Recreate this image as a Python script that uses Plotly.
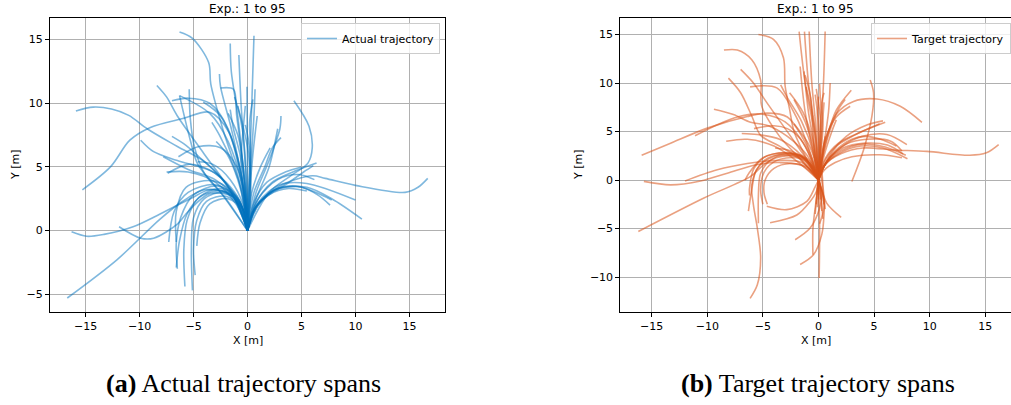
import plotly.graph_objects as go

# Actual (driven) trajectories, metres, each starting at the robot origin
ACTUAL_TRAJ = [
    [(0, 0), (0.2, 5), (0.4, 10), (0.6, 15.3)],
    [(0, 0), (-0.3, 4), (-0.9, 9), (-1.5, 12.5), (-1.6, 14.7)],
    [(0, 0), (-0.2, 5), (-0.6, 10), (-0.8, 13.8)],
    [(0, 0), (-0.8, 4), (-2.3, 8), (-3.4, 11.5), (-3.6, 13.2), (-5.1, 15.1), (-6.3, 15.6)],
    [(0, 0), (0.3, 5), (0.6, 9), (0.7, 11.1)],
    [(0, 0), (0.0, 5), (-0.05, 11.3)],
    [(0, 0), (-0.4, 5), (-1.0, 9), (-1.3, 11.1), (-2.5, 11.2)],
    [(0, 0), (0.8, 3), (2.0, 5.5), (3.0, 8.0), (3.1, 9.0)],
    [(0, 0), (0.6, 3), (1.6, 5), (2.3, 6.5), (3.1, 7.3)],
    [(0, 0), (0.8, 2.5), (2.0, 5), (2.8, 8.0)],
    [(0, 0), (2.0, 3.0), (4.0, 4.3), (5.6, 5.3), (6.0, 6.5), (5.7, 8.2), (4.3, 10.2)],
    [(0, 0), (-0.5, 4), (-1.5, 8), (-2.5, 11.3), (-2.6, 12.3)],
    [(0, 0), (-2.0, 2.5), (-4.0, 4.5), (-4.9, 6.5), (-5.3, 8.8), (-5.4, 11.1)],
    [(0, 0), (-1.5, 3), (-4.0, 6), (-6.5, 9), (-7.5, 10.5), (-8.4, 11.4)],
    [(0, 0), (-0.6, 4), (-1.8, 8), (-3.5, 10), (-5.5, 10.4), (-7.0, 10.2)],
    [(0, 0), (-0.5, 4), (-1.7, 7.7), (-3.5, 9.3), (-6.0, 8.8), (-9.0, 8.1), (-10.9, 7.1), (-12.7, 5.0), (-15.3, 3.2)],
    [(0, 0), (-1.5, 3), (-3.8, 5.3), (-6.5, 6.6), (-9.3, 8.0), (-11.0, 9.05), (-12.6, 9.55), (-14.3, 9.7), (-15.9, 9.4)],
    [(0, 0), (-1.0, 2.5), (-3.0, 4.5), (-6.5, 5.5), (-8.7, 6.2), (-9.9, 7.1)],
    [(0, 0), (-1.0, 2.0), (-3.0, 3.8), (-5.5, 4.6), (-7.5, 4.6)],
    [(0, 0), (-1.2, 2.6), (-3.0, 4.0), (-5.5, 4.8), (-7.8, 5.8)],
    [(0, 0), (-0.7, 2.2), (-2.5, 3.3), (-4.5, 2.6), (-5.6, 0.8), (-5.9, -1.5), (-5.8, -4.4)],
    [(0, 0), (-0.6, 2.0), (-2.2, 3.0), (-4.0, 2.5), (-5.0, 1.0), (-5.2, -1.5), (-5.1, -4.7)],
    [(0, 0), (-0.8, 2.4), (-2.8, 3.5), (-5.0, 2.8), (-6.2, 1.0), (-6.6, -1.0), (-6.5, -3.0)],
    [(0, 0), (-0.9, 2.5), (-3.0, 3.6), (-5.5, 3.0), (-6.8, 1.5), (-7.3, -0.9)],
    [(0, 0), (-0.5, 1.8), (-2.0, 2.7), (-3.8, 2.3), (-4.7, 0.8), (-5.0, -1.5), (-4.85, -3.5)],
    [(0, 0), (-0.7, 2.1), (-2.4, 3.1), (-4.3, 2.7), (-5.6, 1.3), (-6.3, -0.8), (-6.6, -2.9)],
    [(0, 0), (-1.0, 2.7), (-3.2, 3.9), (-5.7, 3.4), (-6.6, 1.5), (-6.6, -0.9)],
    [(0, 0), (-0.4, 1.6), (-1.8, 2.5), (-3.5, 2.1), (-4.4, 0.6), (-4.7, -1.2)],
    [(0, 0), (-1.5, 2.8), (-4.0, 3.2), (-6.0, 2.3), (-8.1, 0.9), (-12.1, -2.3), (-16.7, -5.3)],
    [(0, 0), (-1.5, 2.8), (-3.5, 3.2), (-5.3, 2.5), (-8.1, 1.3), (-10.6, 0.3), (-13.3, -0.3), (-14.9, -0.45), (-16.3, -0.1)],
    [(0, 0), (-1.3, 2.6), (-3.5, 2.9), (-5.5, 1.5), (-6.5, 0.5), (-8.7, -0.6), (-9.9, -0.6), (-11.9, 0.3)],
    [(0, 0), (1.0, 2.0), (3.0, 3.5), (6.0, 4.3), (7.2, 4.1), (10.0, 3.55), (14.6, 3.0), (15.8, 3.4), (16.7, 4.1)],
    [(0, 0), (1.0, 2.0), (3.0, 3.3), (5.5, 3.4), (7.8, 2.5), (10.6, 0.9)],
    [(0, 0), (1.0, 2.2), (3.0, 3.6), (5.5, 3.7), (10.0, 2.4)],
    [(0, 0), (0.9, 2.0), (2.8, 3.3), (5.0, 3.4), (6.5, 2.8), (7.65, 2.0)],
    [(0, 0), (0.8, 1.9), (2.5, 3.2), (4.5, 3.5), (6.3, 3.0), (7.8, 2.4)],
    [(0, 0), (0.8, 2.2), (2.3, 3.8), (4.2, 4.6), (6.4, 5.3)],
    [(0, 0), (0.6, 1.6), (2.0, 2.8), (3.8, 3.3), (5.5, 3.1)],
    [(0, 0), (1.0, 2.5), (2.8, 4.0), (4.7, 4.4), (6.2, 4.0)],
    [(0, 0), (0.5, 1.5), (1.8, 2.8), (3.5, 3.6), (5.2, 4.6), (6.1, 5.1)],
    [(0, 0), (-0.2, 3), (-0.7, 6), (-1.3, 8), (-1.6, 9.5)],
    [(0, 0), (0.2, 3), (0.5, 6), (0.9, 9)],
    [(0, 0), (-0.5, 3), (-1.5, 5.5), (-2.6, 7.5), (-3.3, 8.5)],
    [(0, 0), (0.4, 3), (1.2, 5), (2.1, 6.5)],
    [(0, 0), (-0.3, 3), (-1.2, 6.5), (-2.5, 9), (-4.1, 10.1)],
    [(0, 0), (-1.0, 2.5), (-2.5, 4.2), (-4.5, 5.8), (-5.7, 6.7), (-7.0, 7.4)],
    [(0, 0), (-0.7, 2.3), (-2.0, 3.8), (-3.6, 4.8), (-5.5, 5.2), (-7.4, 4.5)],
    [(0, 0), (0.3, 3), (0.1, 6), (-0.5, 8.5), (-1.2, 10.5)],
    [(0, 0), (-0.1, 4), (-0.4, 7.5), (-0.9, 9.8)],
    [(0, 0), (-0.5, 3.5), (-1.8, 7), (-3.5, 9.2), (-6.3, 10.6)],
    [(0, 0), (-0.2, 2.5), (-1.0, 5), (-2.5, 6.5), (-4.5, 6.6), (-6.4, 5.8)],
    [(0, 0), (0.6, 2.2), (1.8, 3.8), (3.5, 4.6), (5.0, 5.0)],
    [(0, 0), (-0.4, 2), (-1.6, 4), (-3.2, 5.2), (-4.6, 5.4)],
    [(0, 0), (-2.5, 3), (-4.6, 5.2), (-5.3, 7.1), (-6.3, 10.6)],
    [(0, 0), (0.1, 3), (0.3, 6), (0.2, 8.5), (0.5, 10.3)],
    [(0, 0), (-0.3, 2.5), (-0.6, 5.5), (-0.4, 8), (-0.2, 9.8)],
    [(0, 0), (-0.1, 2.5), (-0.4, 5.0), (-0.9, 7.5), (-1.8, 9.2)],
    [(0, 0), (0.2, 2.0), (0.3, 4.5), (0.1, 7.0), (-0.2, 8.3)],
    [(0, 0), (-0.3, 2.0), (-0.9, 4.0), (-1.9, 6.0), (-2.9, 7.0)],
]

# Target (commanded) trajectories, metres
TARGET_TRAJ = [
    [(0, 0), (-0.4, 5), (-1.2, 10), (-1.74, 15.3)],
    [(0, 0), (-0.3, 5), (-0.9, 10), (-1.26, 15.3)],
    [(0, 0), (-0.2, 5), (-0.6, 10), (-0.84, 15.3)],
    [(0, 0), (0.2, 5), (0.45, 10), (0.6, 15.3)],
    [(0, 0), (-1.2, 2.5), (-2.2, 5), (-2.6, 7.3), (-3.0, 9.7), (-3.15, 12.6), (-4.05, 14.5), (-5.4, 15.0)],
    [(0, 0), (-1.5, 2), (-3.5, 4.5), (-5.1, 7.6), (-5.2, 10.3), (-6.0, 12.4), (-7.3, 13.4), (-8.5, 13.4)],
    [(0, 0), (-1.0, 2), (-2.5, 4.5), (-4.6, 7.9), (-5.85, 10.0), (-7.0, 11.4)],
    [(0, 0), (-1.5, 2), (-3.5, 3.5), (-5.2, 4.6), (-6.0, 6.6), (-7.0, 9.0), (-8.1, 10.5)],
    [(0, 0), (-0.5, 2), (-1.5, 4.5), (-2.8, 6.5), (-4.6, 6.9), (-6.4, 6.55), (-10.0, 5.35), (-13.3, 3.8), (-15.9, 2.55)],
    [(0, 0), (-1.5, 1.5), (-3.5, 1.8), (-5.5, 1.6), (-8.2, 0.7), (-10.6, -0.1), (-13.3, -0.5), (-15.7, -0.14)],
    [(0, 0), (-1.5, 1.8), (-4.0, 2.0), (-6.4, 1.7), (-9.1, 1.05), (-12.0, -0.1)],
    [(0, 0), (-1.5, 2.2), (-3.5, 2.5), (-5.0, 1.5), (-6.1, 0.37), (-10.3, -1.85), (-16.2, -5.3)],
    [(0, 0), (-1.5, 2.4), (-3.5, 2.6), (-5.3, 1.5), (-6.0, -0.5), (-5.85, -2.55), (-5.5, -4.95), (-5.2, -8.0), (-5.5, -10.8), (-6.15, -12.2)],
    [(0, 0), (0.1, -5), (0.06, -10.1)],
    [(0, 0), (0.5, -2), (0.5, -3.5), (0.3, -5.6), (-0.45, -7.7), (-1.65, -8.7)],
    [(0, 0), (0.3, -1.5), (0.1, -2.9), (-0.75, -4.95), (-2.1, -6.15)],
    [(0, 0), (-0.2, -2), (-0.5, -5), (-0.5, -7.7)],
    [(0, 0), (0.3, -1), (0.75, -2.4), (2.04, -3.85)],
    [(0, 0), (-0.3, -0.7), (-1.05, -2.2), (-2.85, -3.05), (-4.65, -2.7)],
    [(0, 0), (-0.2, -1.2), (-0.75, -2.2), (-1.95, -3.6), (-4.35, -4.4)],
    [(0, 0), (-1.0, 2.0), (-2.5, 2.7), (-4.5, 2.3), (-5.6, 1.0), (-6.0, -1.0), (-6.3, -3.2)],
    [(0, 0), (-0.8, 1.8), (-2.3, 2.5), (-4.2, 2.1), (-5.2, 0.7), (-5.4, -1.5), (-5.4, -4.45)],
    [(0, 0), (-1.2, 2.2), (-3.0, 2.8), (-5.0, 2.3), (-6.2, 0.8), (-6.6, 0.0)],
    [(0, 0), (-0.8, 2.0), (-2.5, 2.8), (-4.6, 2.5), (-5.8, 1.2), (-6.2, -0.8), (-6.2, -1.6)],
    [(0, 0), (-0.7, 1.6), (-2.0, 2.3), (-3.8, 2.0), (-4.9, 0.8), (-5.2, -1.0), (-5.0, -2.5)],
    [(0, 0), (-1.0, 1.3), (-2.5, 1.7), (-4.0, 1.2), (-4.8, 0.0), (-4.9, -1.3), (-4.6, -2.5)],
    [(0, 0), (0.5, 1.5), (2.0, 2.7), (4.0, 3.3), (6.75, 3.1), (9.75, 2.95), (13.6, 2.55), (15.1, 2.8), (16.2, 3.65)],
    [(0, 0), (0.3, 2), (0.6, 4), (1.6, 6.8), (3.15, 8.1), (5.25, 8.35), (7.35, 7.6), (9.3, 5.95)],
    [(3.0, -0.15), (4.05, 3.1), (4.8, 6.55), (4.95, 9.0), (4.65, 10.3)],
    [(0, 0), (0.8, 2.0), (2.3, 3.6), (3.9, 4.5), (6.15, 4.7), (7.95, 3.65)],
    [(0, 0), (0.6, 1.6), (2.0, 3.0), (4.0, 3.7), (6.0, 3.4), (7.85, 2.55)],
    [(0, 0), (0.5, 1.4), (1.8, 2.7), (3.8, 3.5), (5.8, 3.3), (8.0, 2.2)],
    [(0, 0), (0.7, 1.8), (2.2, 3.3), (4.2, 3.8), (6.2, 3.6), (7.6, 2.7)],
    [(0, 0), (0.8, 2.0), (2.5, 3.7), (4.3, 4.2), (6.5, 4.0), (7.5, 3.0)],
    [(0, 0), (0.6, 2.2), (1.8, 3.8), (3.5, 4.8), (6.0, 5.95)],
    [(0, 0), (0.5, 1.8), (1.5, 3.4), (3.2, 4.6), (5.5, 5.8)],
    [(0, 0), (0.3, 2), (0.8, 4.5), (1.6, 7.2), (2.95, 9.25)],
    [(0, 0), (0.2, 2), (0.7, 4.5), (1.6, 6.5), (2.85, 7.6)],
    [(0, 0), (0.5, 1.5), (1.5, 3.0), (3.0, 4.2), (4.2, 4.5), (5.6, 4.2), (7.0, 3.5)],
    [(0, 0), (0.5, 1.0), (1.5, 1.8), (3.0, 2.4), (5.5, 2.6), (7.5, 2.3)],
    [(0, 0), (-0.3, 3), (-0.9, 7), (-1.3, 11.2)],
    [(0, 0), (-0.5, 3), (-1.2, 7), (-1.65, 11.7)],
    [(0, 0), (0.4, 3), (0.9, 7), (1.05, 10.0)],
    [(0, 0), (-0.8, 3), (-2.0, 6.5), (-3.75, 9.5), (-6.15, 9.6)],
    [(0, 0), (-1.0, 2.5), (-2.8, 4.5), (-4.5, 5.6), (-6.1, 5.95), (-7.65, 6.75), (-9.4, 7.3)],
    [(0, 0), (-1.2, 3.5), (-3.0, 6.0), (-5.2, 6.8), (-7.3, 6.5), (-9.1, 5.7), (-11.1, 4.57)],
    [(0, 0), (-1.5, 2.5), (-3.5, 4.2), (-5.5, 4.7), (-6.9, 4.8)],
    [(0, 0), (-1.0, 2.0), (-2.5, 3.0), (-3.9, 3.3)],
    [(0, 0), (-0.3, 2), (-0.5, 5), (-0.7, 8.5), (-1.2, 10.8)],
    [(0, 0), (0.2, 3), (0.2, 6), (-0.2, 9.4)],
    [(0, 0), (-0.5, 3), (-1.5, 6), (-2.8, 8.5), (-3.4, 9.8)],
    [(0, 0), (-2.0, 2.0), (-4.0, 3.5), (-6.4, 4.2), (-8.3, 4.0)],
    [(0, 0), (0.3, -1.2), (0.5, -2.8), (0.1, -4.5)],
    [(0, 0), (0.3, 2), (1.0, 5), (1.8, 7.3), (2.4, 8.3)],
    [(0, 0), (1.0, 2.5), (2.5, 4.5), (4.4, 5.7), (5.8, 6.1)],
    [(0, 0), (-0.6, 2), (-1.6, 4.2), (-2.8, 5.3), (-4.0, 5.6), (-5.8, 5.3)],
    [(0, 0), (0.2, 2.5), (0.4, 5.5), (0.3, 8.0), (0.5, 9.0)],
    [(0.3, -3.2), (0.2, -1.0), (0.0, 1.0), (-0.2, 4.0), (-0.6, 7.0), (-1.1, 9.6)],
    [(0.5, -2.5), (0.3, 0.0), (0.1, 3.0), (0.0, 6.0), (-0.3, 8.8)],
    [(-0.3, -3.5), (-0.1, -1.0), (0.1, 2.0), (0.3, 5.0), (0.5, 8.0)],
    [(0.2, -2.0), (0.0, 0.5), (-0.4, 3.0), (-1.2, 6.0), (-2.2, 8.3)],
    [(0.0, -1.5), (0.0, 1.0), (0.1, 4.0), (0.2, 7.0), (0.1, 9.9)],
    [(-0.2, -2.5), (0.0, 0.0), (0.5, 2.5), (1.2, 5.0), (1.6, 6.2)],
    [(0.4, -4.0), (0.2, -1.5), (-0.1, 1.0), (-0.8, 3.5), (-2.2, 5.8)],
    [(0.0, -2.0), (-0.1, 1.0), (-0.5, 4.0), (-1.4, 7.0), (-2.6, 9.0)],
    [(0.6, -3.0), (0.4, -0.5), (0.3, 2.0), (0.6, 4.5)],
    [(-0.1, -2.8), (0.1, 0.5), (0.0, 3.5), (-0.1, 6.5), (0.0, 8.6)],
]

TICKS = [-15, -10, -5, 0, 5, 10, 15]
Y_TICKS_A = [-5, 0, 5, 10, 15]
Y_TICKS_B = [-10, -5, 0, 5, 10, 15]
PANEL_TITLE = "Exp.: 1 to 95"
CAPTIONS = ["<b>(a)</b> Actual trajectory spans", "<b>(b)</b> Target trajectory spans"]

BLUE = "rgba(0,114,189,0.5)"
ORANGE = "rgba(217,83,25,0.55)"
W, H = 1011, 405

fig = go.Figure()


def add_paths(paths, color, name, xa, ya, legend):
    for i, path in enumerate(paths):
        fig.add_trace(go.Scatter(
            x=[p[0] for p in path], y=[p[1] for p in path],
            mode="lines", name=name,
            line=dict(color=color, width=1.6, shape="spline", smoothing=0.9),
            xaxis=xa, yaxis=ya, legend=legend,
            showlegend=(i == 0), hoverinfo="skip",
        ))


add_paths(ACTUAL_TRAJ, BLUE, "Actual trajectory", "x", "y", "legend")
add_paths(TARGET_TRAJ, ORANGE, "Target trajectory", "x2", "y2", "legend2")

tick_font = dict(family="DejaVu Sans", size=11, color="black")
axis_common = dict(
    showgrid=True, gridcolor="#b0b0b0", gridwidth=1, zeroline=False,
    showline=True, linecolor="black", linewidth=1, mirror=True,
    ticks="outside", ticklen=4, tickcolor="black", tickfont=tick_font,
    automargin=False,
)

y_dom = [1 - 312 / H, 1 - 18 / H]
legend_common = dict(
    y=1 - 23 / H, yanchor="top", xanchor="right",
    bgcolor="rgba(255,255,255,0.8)", bordercolor="#cccccc", borderwidth=1,
    font=dict(family="DejaVu Sans", size=11, color="black"),
    itemwidth=30, tracegroupgap=0,
)

fig.update_layout(
    width=W, height=H, margin=dict(l=0, r=0, t=0, b=0),
    paper_bgcolor="white", plot_bgcolor="white",
    xaxis=dict(domain=[50 / W, 445 / W], range=[-18.3, 18.3], tickvals=TICKS, anchor="y", **axis_common),
    yaxis=dict(domain=y_dom, range=[-6.4, 16.7], tickvals=Y_TICKS_A, anchor="x", **axis_common),
    xaxis2=dict(domain=[620.3 / W, 1.0], range=[-17.82, 17.31], tickvals=TICKS, anchor="y2", **axis_common),
    yaxis2=dict(domain=y_dom, range=[-13.6, 16.7], tickvals=Y_TICKS_B, anchor="x2", **axis_common),
    legend=dict(x=440 / W, **legend_common),
    legend2=dict(x=1.0, **legend_common),
)

ann_font = dict(family="DejaVu Sans", size=12, color="black")
lab_font = dict(family="DejaVu Sans", size=11, color="black")
cap_font = dict(family="Liberation Serif", size=26, color="black")
for cx, ylx in [(247.5 / W, 15 / W), (815.6 / W, 578 / W)]:
    fig.add_annotation(text=PANEL_TITLE, x=cx, y=1 - 9 / H, xref="paper", yref="paper",
                       showarrow=False, font=ann_font, xanchor="center", yanchor="middle")
    fig.add_annotation(text="X [m]", x=cx, y=1 - 340 / H, xref="paper", yref="paper",
                       showarrow=False, font=lab_font, xanchor="center", yanchor="middle")
    fig.add_annotation(text="Y [m]", x=ylx, y=1 - 165 / H, xref="paper", yref="paper",
                       showarrow=False, font=lab_font, textangle=-90,
                       xanchor="center", yanchor="middle")

for cx, cap in zip([243 / W, 818 / W], CAPTIONS):
    fig.add_annotation(text=cap, x=cx, y=1 - 383 / H, xref="paper", yref="paper",
                       showarrow=False, font=cap_font, xanchor="center", yanchor="middle")

fig.write_html("out.html")
